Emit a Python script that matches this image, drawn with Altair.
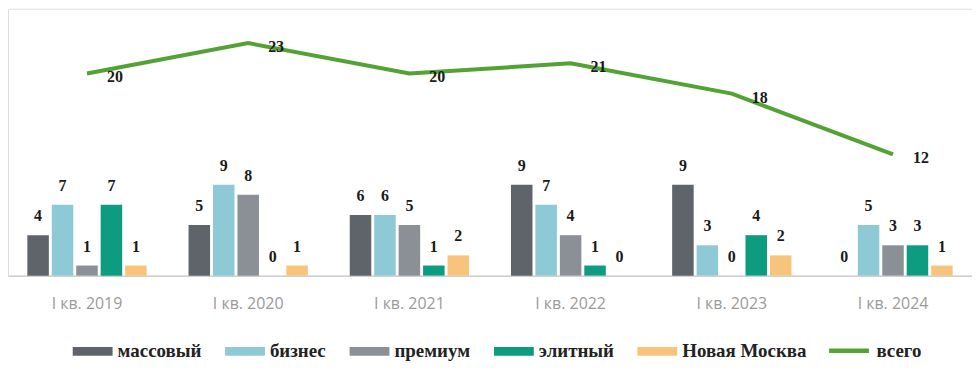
import altair as alt
import pandas as pd

periods = ["I кв. 2019", "I кв. 2020", "I кв. 2021", "I кв. 2022", "I кв. 2023", "I кв. 2024"]
series = ["массовый", "бизнес", "премиум", "элитный", "Новая Москва"]
massovyj = [4, 5, 6, 9, 9, 0]
biznes = [7, 9, 6, 7, 3, 5]
premium = [1, 8, 5, 4, 0, 3]
elitnyj = [7, 0, 1, 1, 4, 3]
novaya_moskva = [1, 1, 2, 0, 2, 1]
total = [20, 23, 20, 21, 18, 12]
total_name = "всего"

colors = ["#5e646a", "#8ecad6", "#8b9096", "#0d9c7f", "#f8c47c"]
total_color = "#52a234"

values = [massovyj, biznes, premium, elitnyj, novaya_moskva]
rows = []
for s, vals in zip(series, values):
    for p, v in zip(periods, vals):
        rows.append({"period": p, "series": s, "value": v})
bars_df = pd.DataFrame(rows)
total_df = pd.DataFrame({"period": periods, "value": total, "name": [total_name] * len(periods)})

serif = "Liberation Serif"

x = alt.X("period:N", sort=periods, title=None,
          scale=alt.Scale(paddingInner=0.26, paddingOuter=0.12),
          axis=alt.Axis(labelAngle=0, ticks=False, domainColor="#cfcfcf", domainWidth=1.5,
                        labelColor="#9a9a9a", labelFont="Open Sans", labelFontSize=16,
                        labelPadding=20))
y_scale = alt.Scale(domain=[0, 26.4], nice=False)
xoff = alt.XOffset("series:N", sort=series, scale=alt.Scale(paddingInner=0.12))

legend_common = dict(title=None, orient="none", direction="horizontal", symbolSize=1600,
                     labelFont=serif, labelFontSize=19, labelFontWeight="bold",
                     labelColor="#222222", columnPadding=23, labelOffset=5)

bars = alt.Chart(bars_df).mark_bar().encode(
    x=x,
    xOffset=xoff,
    y=alt.Y("value:Q", scale=y_scale, axis=None),
    color=alt.Color("series:N",
                    scale=alt.Scale(domain=series, range=colors),
                    legend=alt.Legend(symbolType="M-1,-0.22H1V0.22H-1Z", symbolStrokeWidth=0,
                                      legendX=65, legendY=324, **legend_common)),
)

bar_text = alt.Chart(bars_df).mark_text(font=serif, fontSize=16, fontWeight="bold",
                                        color="#1a1a1a", baseline="bottom", dy=-11).encode(
    x=x,
    xOffset=xoff,
    y=alt.Y("value:Q", scale=y_scale),
    text="value:Q",
)

line = alt.Chart(total_df).mark_line(strokeWidth=4).encode(
    x=x,
    y=alt.Y("value:Q", scale=y_scale),
    stroke=alt.Stroke("name:N", scale=alt.Scale(domain=[total_name], range=[total_color]),
                      legend=alt.Legend(symbolType="M-1,0H1", symbolStrokeWidth=4.5,
                                        legendX=822, legendY=321, **legend_common)),
)

line_text = alt.Chart(total_df).mark_text(font=serif, fontSize=16, fontWeight="bold",
                                          color="#1a1a1a", dx=28, dy=4).encode(
    x=x,
    y=alt.Y("value:Q", scale=y_scale),
    text="value:Q",
)

chart = alt.layer(bars, bar_text, line, line_text).resolve_legend(
    color="independent", stroke="independent"
).properties(
    width=968, height=268,
    padding={"left": 0, "top": 0, "right": 0, "bottom": 4},
).configure_view(stroke=None).configure(background="white")

chart.save("out.html", embed_options={"renderer": "svg", "actions": False})
